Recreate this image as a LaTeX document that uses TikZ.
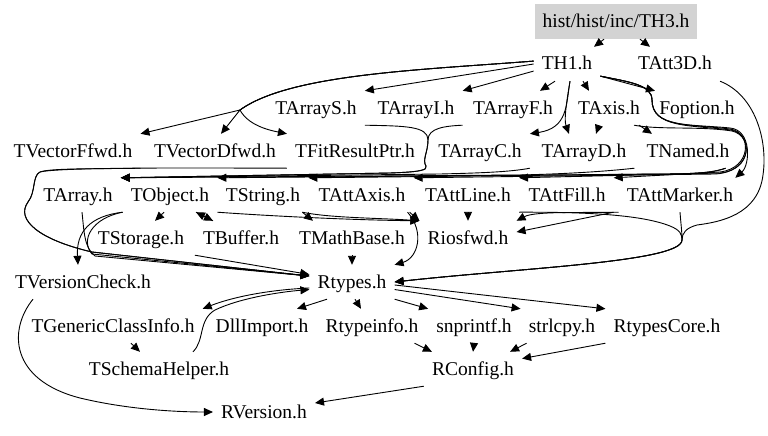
\documentclass[tikz,border=0pt]{standalone}
\usepackage{fontspec}
\setmainfont{Liberation Serif}
\usetikzlibrary{arrows.meta}
\definecolor{hdrgray}{RGB}{211,211,211}
\begin{document}
\begin{tikzpicture}[x=1pt,y=-1pt,
  fnode/.style={font=\fontsize{19.5}{22}\selectfont, inner xsep=8pt, inner ysep=0pt, minimum height=34pt, text height=12pt, text depth=0pt},
  dep/.style={draw, line width=0.9pt, -{Triangle[length=9pt,width=8pt]}}]
\useasboundingbox (0,0) rectangle (768,436);
% nodes
\node[fnode, fill=hdrgray, minimum width=160pt, minimum height=35pt] (th3) at (616,21.5) {hist/hist/inc/TH3.h};
\node[fnode] (th1) at (567,64) {TH1.h};
\node[fnode] (tatt3d) at (675,64) {TAtt3D.h};
\node[fnode] (tarrays) at (316,108) {TArrayS.h};
\node[fnode] (tarrayi) at (416,108) {TArrayI.h};
\node[fnode] (tarrayf) at (513,108) {TArrayF.h};
\node[fnode] (taxis) at (609,108) {TAxis.h};
\node[fnode] (foption) at (697,108) {Foption.h};
\node[fnode] (tvf) at (73,151) {TVectorFfwd.h};
\node[fnode] (tvd) at (215,151) {TVectorDfwd.h};
\node[fnode] (tfrp) at (355,151) {TFitResultPtr.h};
\node[fnode] (tarrayc) at (480,151) {TArrayC.h};
\node[fnode] (tarrayd) at (584,151) {TArrayD.h};
\node[fnode] (tnamed) at (688,151) {TNamed.h};
\node[fnode] (tarray) at (78,195) {TArray.h};
\node[fnode] (tobject) at (170,195) {TObject.h};
\node[fnode] (tstring) at (263,195) {TString.h};
\node[fnode] (tattaxis) at (362,195) {TAttAxis.h};
\node[fnode] (tattline) at (468,195) {TAttLine.h};
\node[fnode] (tattfill) at (567,195) {TAttFill.h};
\node[fnode] (tattmarker) at (680,195) {TAttMarker.h};
\node[fnode] (tstorage) at (141,238) {TStorage.h};
\node[fnode] (tbuffer) at (241,238) {TBuffer.h};
\node[fnode] (tmathbase) at (352,238) {TMathBase.h};
\node[fnode] (riosfwd) at (468,238) {Riosfwd.h};
\node[fnode] (tvc) at (83,282) {TVersionCheck.h};
\node[fnode] (rtypes) at (352,282) {Rtypes.h};
\node[fnode] (tgci) at (113,326) {TGenericClassInfo.h};
\node[fnode] (dllimport) at (262,326) {DllImport.h};
\node[fnode] (rtypeinfo) at (372,326) {Rtypeinfo.h};
\node[fnode] (snprintf) at (474,326) {snprintf.h};
\node[fnode] (strlcpy) at (562,326) {strlcpy.h};
\node[fnode] (rtypescore) at (667,326) {RtypesCore.h};
\node[fnode] (tsh) at (159,369) {TSchemaHelper.h};
\node[fnode] (rconfig) at (473,369) {RConfig.h};
\node[fnode] (rversion) at (264,412) {RVersion.h};
% edges
\draw[dep] ([xshift=-12pt]th3.south) -- ([xshift=27pt]th1.north);
\draw[dep] ([xshift=24pt]th3.south) -- ([xshift=-25pt]tatt3d.north);
\draw[dep] (th1.west) -- (tarrays.north east);
\draw[dep] (th1.192) -- (tarrayi.north east);
\draw[dep] ([xshift=-12pt]th1.south) -- ([xshift=27pt]tarrayf.north);
\draw[dep] ([xshift=16pt]th1.south) -- ([xshift=-20pt]taxis.north);
\draw[dep] (th1.-20) -- ([xshift=-42pt]foption.north);
\draw[dep] (th1.175) .. controls (420,70) and (290,74) .. (240,110) -- (tvf.north east);
\draw[dep] (th1.175) .. controls (420,70) and (290,74) .. (240,110) -- ([xshift=6pt]tvd.north);
\draw[dep] (th1.175) .. controls (420,70) and (290,74) .. (240,110) .. controls (248,125) and (268,130) .. (tfrp.north west);
\draw[dep] ([xshift=3pt]th1.south) .. controls (566,105) and (568,128) .. (tarrayc.north east);
\draw[dep] ([xshift=3pt]th1.south) .. controls (566,105) and (564,120) .. ([xshift=-15pt]tarrayd.north);
\draw[dep] ([xshift=-10pt]taxis.south) -- ([xshift=12pt]tarrayd.north);
\draw[dep] ([xshift=30pt]taxis.south) -- ([xshift=-36pt]tnamed.north);
% right loop bundle
\draw[dep] (th1.-20) .. controls (630,82) and (652,85) .. (652,100) .. controls (652,128) and (690,124) .. (730,128) .. controls (752,130) and (750,165) .. ([xshift=-6pt]tattmarker.north east);
\draw[dep] (th1.-20) .. controls (630,82) and (652,85) .. (652,100) .. controls (652,128) and (690,124) .. (730,129) .. controls (752,132) and (752,168) .. (720,172) -- (tattfill.north east);
\draw[dep] (th1.-20) .. controls (630,82) and (652,85) .. (652,100) .. controls (652,128) and (690,125) .. (731,130) .. controls (753,134) and (753,170) .. (720,173) -- (tattline.north east);
\draw[dep] ([xshift=25pt]taxis.south) .. controls (660,130) and (700,126) .. (732,131) .. controls (754,136) and (752,172) .. (715,174) -- (tattaxis.north east);
\draw[dep] ([xshift=-12pt]tnamed.south east) .. controls (715,172) and (700,174) .. (660,174) -- (tobject.north east);
\draw[dep] ([xshift=-12pt]tnamed.south east) .. controls (715,172) and (700,174) .. (660,174) -- (tstring.north east);
\draw[dep] (tarrays.south east) .. controls (405,126) and (428,126) .. (428,140) .. controls (428,152) and (422,160) .. (426,166) .. controls (428,170) and (420,172) .. (390,173) -- (tarray.north east);
\draw[dep] (tarrayi.south east) .. controls (445,126) and (428,128) .. (428,140) .. controls (428,152) and (422,160) .. (426,166) .. controls (428,170) and (420,172) .. (390,173) -- (tarray.north east);
\draw[dep] (tarrayc.south east) .. controls (510,172) and (480,173) .. (440,174) -- (tarray.north east);
\draw[dep] (tarrayd.south east) .. controls (600,172) and (560,174) .. (520,175) -- (tarray.north east);
% left loop to Rtypes
\draw[dep] (tvf.south east) .. controls (100,169) and (50,168) .. (40,172) .. controls (32,176) and (36,192) .. (28,202) .. controls (15,220) and (40,240) .. (92,252) -- (rtypes.172);
\draw[dep] (tfrp.south west) .. controls (200,168) and (60,167) .. (40,172) .. controls (32,176) and (36,192) .. (28,202) .. controls (15,220) and (40,240) .. (92,252) -- (rtypes.172);
\draw[dep] (tobject.south west) .. controls (90,216) and (76,232) .. ([xshift=-5pt]tvc.north);
\draw[dep] (tobject.south west) .. controls (92,218) and (80,240) .. (92,254) -- (rtypes.172);
\draw[dep] ([xshift=4pt]tarray.south) .. controls (84,230) and (84,248) .. (95,256) -- (rtypes.172);
\draw[dep] ([xshift=-6pt]tobject.south) -- ([xshift=14pt]tstorage.north);
\draw[dep] ([xshift=26pt]tobject.south) -- ([xshift=-28pt]tbuffer.north);
\draw[dep] ([xshift=-28pt]tbuffer.north) -- ([xshift=26pt]tobject.south);
\draw[dep] (tobject.south east) .. controls (270,216) and (350,220) .. (riosfwd.north west);
\draw[dep] ([xshift=-6pt]tstring.south east) -- ([xshift=22pt]tmathbase.north west);
\draw[dep] ([xshift=-6pt]tstring.south east) .. controls (330,218) and (380,218) .. (riosfwd.north west);
\draw[dep] ([xshift=-4pt]tattaxis.south east) -- (riosfwd.north west);
\draw[dep] ([xshift=-6pt]tattaxis.south east) .. controls (425,232) and (418,258) .. (rtypes.north east);
\draw[dep] (tmathbase.south) -- (rtypes.north);
\draw[dep] (tbuffer.south west) -- (rtypes.170);
\draw[dep] (tattline.south) -- (riosfwd.north);
\draw[dep] (tattfill.south east) -- (riosfwd.7);
\draw[dep] (tattmarker.south west) .. controls (580,213) and (535,211) .. (riosfwd.north east);
\draw[dep] (tattline.south east) .. controls (580,212) and (640,214) .. (670,226) .. controls (680,230) and (682,234) .. (682,240) .. controls (682,262) and (520,268) .. (rtypes.east);
\draw[dep] (tattmarker.south) .. controls (681,225) and (682,232) .. (682,240) .. controls (682,262) and (520,268) .. (rtypes.east);
\draw[dep] (tatt3d.south east) .. controls (755,95) and (768,140) .. (763,175) .. controls (758,215) and (720,222) .. (697,225) .. controls (686,228) and (682,233) .. (682,240) .. controls (682,262) and (520,268) .. (rtypes.east);
% lower part
\draw[dep] (rtypes.188) .. controls (265,290) and (230,298) .. (tgci.north east);
\draw[dep] ([xshift=34pt]tsh.north) .. controls (205,340) and (198,320) .. (215,310) .. controls (240,298) and (280,292) .. (rtypes.190);
\draw[dep] ([xshift=-25pt]rtypes.south) -- ([xshift=35pt]dllimport.north);
\draw[dep] ([xshift=3pt]rtypes.south) -- ([xshift=-11pt]rtypeinfo.north);
\draw[dep] (rtypes.south east) -- (snprintf.north west);
\draw[dep] (rtypes.-10) -- (strlcpy.north west);
\draw[dep] (rtypes.-4) -- (rtypescore.north west);
\draw[dep] ([xshift=18pt]tgci.south) -- ([xshift=-19pt]tsh.north);
\draw[dep] ([xshift=-12pt]rtypeinfo.south east) -- ([xshift=8pt]rconfig.north west);
\draw[dep] (snprintf.south) -- (rconfig.north);
\draw[dep] ([xshift=6pt]strlcpy.south west) -- ([xshift=-12pt]rconfig.north east);
\draw[dep] (rtypescore.south west) -- (rconfig.12);
\draw[dep] (rconfig.south west) -- (rversion.10);
\draw[dep] ([xshift=-50pt]tvc.south) .. controls (8,330) and (10,380) .. (80,398) .. controls (130,410) and (180,412) .. (rversion.west);
\end{tikzpicture}
\end{document}
